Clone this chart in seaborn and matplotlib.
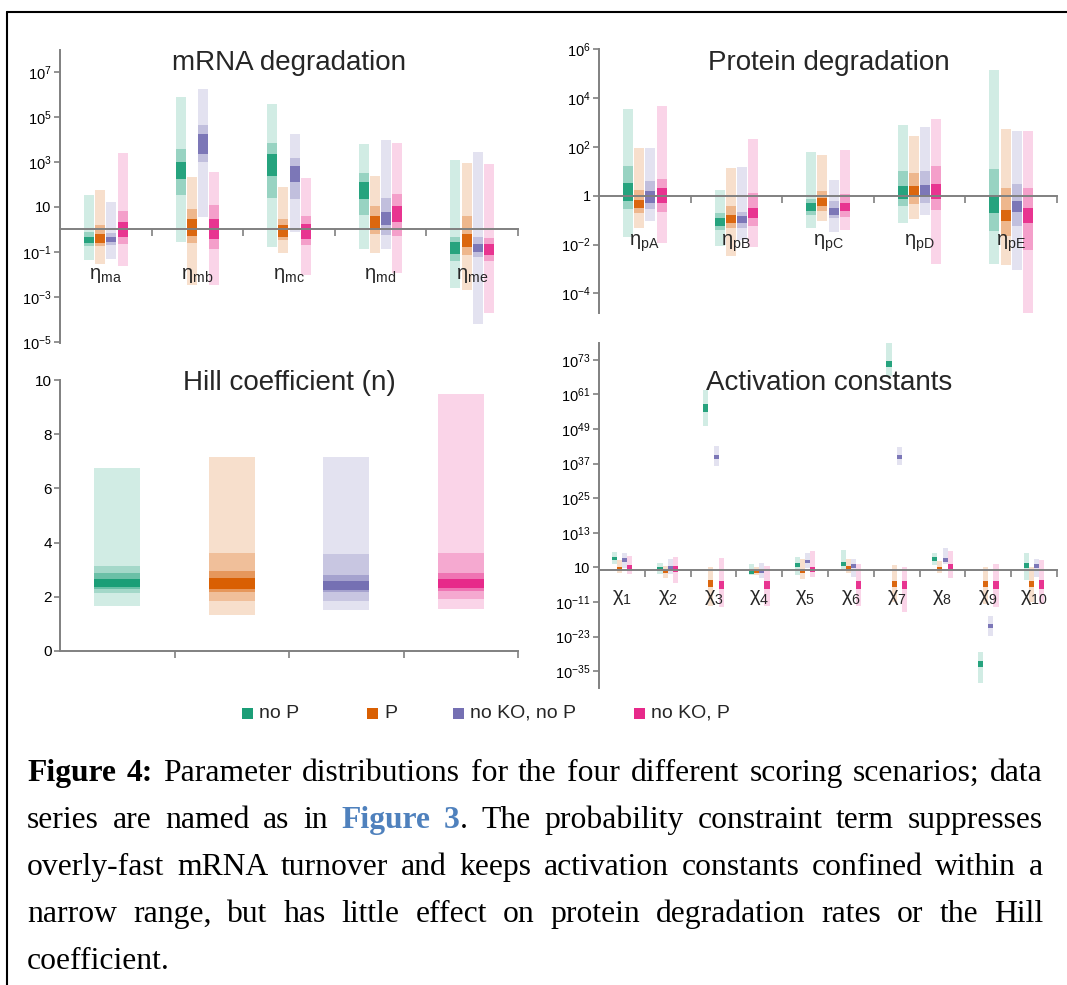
import numpy as np
import matplotlib
matplotlib.use("Agg")
import matplotlib.pyplot as plt
import matplotlib.colors as mcolors
from matplotlib.lines import Line2D
from matplotlib.patches import Rectangle
import seaborn as sns

# ---------------- data (log10 values unless noted) ----------------
SERIES = ["no P", "P", "no KO, no P", "no KO, P"]

MRNA_LABELS = ["ma", "mb", "mc", "md", "me"]
# (outer_lo, outer_hi, mid_lo, mid_hi, core_lo, core_hi)
MRNA_NOP = [(-1.37, 1.55, -0.74, -0.12, -0.59, -0.34),
            (-0.56, 5.88, 1.53, 3.57, 2.24, 2.98),
            (-0.78, 5.56, 1.39, 3.83, 2.39, 3.35),
            (-0.85, 3.79, 0.66, 2.53, 1.36, 2.09),
            (-2.59, 3.08, -1.41, -0.34, -1.08, -0.56)]
MRNA_P = [(-1.52, 1.77, -0.74, 0.21, -0.59, -0.19),
          (-2.48, 2.31, -0.59, 0.91, -0.27, 0.47),
          (-1.03, 1.87, -0.49, 0.47, -0.34, 0.18),
          (-1.03, 2.36, -0.22, 1.06, -0.04, 0.62),
          (-2.70, 2.95, -1.15, 0.59, -0.78, -0.19)]
MRNA_NOKO_NOP = [(-1.33, 1.21, -0.68, -0.16, -0.56, -0.34),
                 (0.55, 6.26, 2.98, 4.63, 3.35, 4.23),
                 (-0.12, 4.26, 1.36, 3.17, 2.09, 2.83),
                 (-0.88, 3.96, -0.24, 1.40, 0.18, 0.77),
                 (-4.21, 3.45, -1.22, -0.34, -1.00, -0.63)]
MRNA_NOKO_P = [(-1.64, 3.39, -0.63, 0.84, -0.34, 0.35),
               (-2.45, 2.56, -0.88, 1.09, -0.41, 0.47),
               (-2.03, 2.27, -0.68, 0.59, -0.41, 0.25),
               (-1.93, 3.83, -0.27, 1.58, 0.32, 1.06),
               (-3.73, 2.90, -1.41, -0.38, -1.15, -0.63)]

PROT_LABELS = ["pA", "pB", "pC", "pD", "pE"]
PROT_NOP = [(-1.69, 3.55, -0.55, 1.20, -0.23, 0.52),
            (-2.07, 0.25, -1.39, -0.71, -1.23, -0.91),
            (-1.32, 1.77, -0.78, -0.14, -0.64, -0.30),
            (-1.12, 2.90, -0.44, 1.00, -0.14, 0.38),
            (-2.80, 5.13, -1.46, 1.09, -0.71, 0.04)]
PROT_P = [(-1.32, 1.95, -0.71, 0.25, -0.50, -0.16),
          (-2.45, 1.13, -1.32, -0.44, -1.12, -0.78),
          (-1.05, 1.68, -0.64, 0.20, -0.44, -0.10),
          (-0.94, 2.43, -0.33, 0.93, -0.03, 0.41),
          (-2.82, 2.74, -1.64, 0.31, -1.05, -0.57)]
PROT_NOKO_NOP = [(-1.05, 1.95, -0.55, 0.61, -0.30, 0.18),
                 (-1.80, 1.16, -1.32, -0.68, -1.12, -0.85),
                 (-1.50, 0.63, -0.91, -0.23, -0.78, -0.50),
                 (-0.79, 2.81, -0.30, 1.02, -0.03, 0.45),
                 (-3.03, 2.66, -1.23, 0.49, -0.68, -0.23)]
PROT_NOKO_P = [(-1.94, 3.65, -0.68, 0.68, -0.30, 0.31),
               (-2.10, 2.33, -1.25, 0.11, -0.91, -0.50),
               (-1.39, 1.88, -0.87, 0.08, -0.64, -0.30),
               (-2.80, 3.14, -0.60, 1.20, -0.14, 0.49),
               (-5.11, 2.66, -2.21, 0.31, -1.12, -0.50)]

# Hill coefficient (linear), one bar per series: (lo, hi) per level
HILL_OUTER = [(1.65, 6.77), (1.32, 7.17), (1.53, 7.17), (1.56, 9.47)]
HILL_BAND1 = [(2.14, 3.14), (1.85, 3.62), (1.85, 3.57), (1.91, 3.63)]
HILL_BAND2 = [(2.27, 2.86), (2.16, 2.94), (2.18, 2.80), (2.20, 2.89)]
HILL_CORE = [(2.36, 2.67), (2.30, 2.71), (2.24, 2.57), (2.33, 2.67)]

ACT_LABELS = ["1", "2", "3", "4", "5", "6", "7", "8", "9", "10"]
# (outer_lo, outer_hi, core_lo, core_hi)
ACT_NOP = [(2.2, 6.2, 3.6, 4.7), (-1.3, 2.4, -0.3, 1.0), (50.0, 62.4, 55.0, 57.5),
           (-1.6, 2.2, -1.3, -0.1), (-1.5, 4.5, 1.0, 2.4), (0.1, 7.0, 1.5, 2.9),
           (67.3, 78.8, 70.5, 72.5), (2.0, 5.9, 3.3, 4.7), (-39.2, -28.2, -33.5, -31.5),
           (-3.3, 5.9, 0.8, 2.4)]
ACT_P = [(-1.0, 3.6, -0.1, 1.3), (-2.7, 1.6, -0.9, 0.2), (-12.2, 1.0, -5.7, -3.3),
         (-1.6, 1.3, -1.0, -0.1), (-3.0, 3.9, -0.8, 0.6), (-1.0, 3.9, -0.1, 1.5),
         (-11.1, 2.0, -5.9, -3.6), (-1.0, 3.1, -0.3, 1.0), (-11.7, 1.0, -5.9, -3.8),
         (-11.1, 1.3, -5.7, -3.6)]
ACT_NOKO_NOP = [(0.8, 5.9, 2.8, 4.2), (-1.3, 3.9, 0.1, 1.6), (36.1, 43.0, 38.6, 40.0),
                (-2.7, 2.4, -1.0, 0.1), (0.8, 5.9, 2.4, 3.7), (-2.2, 3.9, 0.8, 2.2),
                (36.4, 42.6, 38.6, 40.0), (2.2, 7.7, 2.9, 4.3), (-22.8, -15.9, -20.0, -18.5),
                (-2.2, 3.9, 0.8, 2.2)]
ACT_NOKO_P = [(-1.3, 5.1, -0.1, 2.0), (-4.5, 4.7, -0.7, 1.6), (-12.8, 4.3, -6.5, -3.8),
              (-12.2, 1.6, -6.5, -3.8), (-2.4, 6.6, -0.7, 1.0), (-12.2, 2.2, -6.5, -3.8),
              (-14.3, 1.3, -6.5, -3.6), (-2.7, 6.6, 0.5, 2.2), (-12.8, 2.2, -6.5, -3.8),
              (-11.7, 3.6, -6.5, -3.3)]

MRNA_TICKS = [-5, -3, -1, 1, 3, 5, 7]
PROT_TICKS = [-4, -2, 0, 2, 4, 6]
HILL_TICKS = [0, 2, 4, 6, 8, 10]
ACT_TICKS = [-35, -23, -11, 1, 13, 25, 37, 49, 61, 73]

# ---------------- style ----------------
sns.set_style("white")
PALETTE = sns.color_palette("Dark2", 4)
plt.rcParams["font.family"] = ["Liberation Sans", "DejaVu Sans"]
plt.rcParams["mathtext.fontset"] = "custom"
plt.rcParams["mathtext.rm"] = "Liberation Sans"
plt.rcParams["mathtext.it"] = "Liberation Sans:italic"
plt.rcParams["mathtext.bf"] = "Liberation Sans:bold"

W, H = 1067, 985
fig = plt.figure(figsize=(W / 100, H / 100), dpi=100)
fig.patch.set_facecolor("white")

GRAY = "#808080"


def rect(l, r, t, b):
    return [l / W, 1 - b / H, (r - l) / W, (b - t) / H]


def tint(c, a):
    c = np.array(mcolors.to_rgb(c))
    return tuple(1 - a * (1 - c))


def tick_label(v):
    if v == 0:
        return "1"
    if v == 1:
        return "10"
    return r"$\mathregular{10^{%d}}$" % v


def style_axes(ax):
    for s in ["top", "right"]:
        ax.spines[s].set_visible(False)
    for s in ["left", "bottom"]:
        ax.spines[s].set_color(GRAY)
        ax.spines[s].set_linewidth(1.4)
    ax.tick_params(axis="both", colors=GRAY, labelcolor="black", length=4, width=1.2,
                   direction="out", left=True, bottom=True)
    ax.tick_params(axis="x", labelbottom=False, length=5)
    ax.set_facecolor("white")


def log_panel(rect_px, series_data, ticks, ylim, ncat, labels, prefix, label_y,
              alphas, width, spacing, labelsize):
    ax = fig.add_axes(rect(*rect_px))
    style_axes(ax)
    ax.set_yscale("log")
    for si, data in enumerate(series_data):
        for ci, row in enumerate(data):
            x = ci + 0.5 + (si - 1.5) * spacing
            for k, a in enumerate(alphas):
                lo, hi = 10.0 ** row[2 * k], 10.0 ** row[2 * k + 1]
                ax.bar(x, hi - lo, bottom=lo, width=width, color=tint(PALETTE[si], a),
                       linewidth=0, zorder=1 + k * 0.01)
    ax.set_xlim(0, ncat)
    ax.set_ylim(10.0 ** ylim[0], 10.0 ** ylim[1])
    ax.spines["bottom"].set_position(("data", 1.0))
    ax.set_xticks(range(1, ncat + 1))
    ax.set_yticks([10.0 ** v for v in ticks])
    ax.set_yticklabels([tick_label(v) for v in ticks])
    ax.minorticks_off()
    ax.tick_params(axis="y", labelsize=labelsize, pad=2)
    for ci, lab in enumerate(labels):
        ax.text(ci + 0.5, 10.0 ** label_y, r"$\mathregular{%s_{%s}}$" % (prefix, lab),
                ha="center", va="center", fontsize=14.5)
    return ax


# mRNA degradation
log_panel((60, 518, 50, 343), [MRNA_NOP, MRNA_P, MRNA_NOKO_NOP, MRNA_NOKO_P],
          MRNA_TICKS, (-5.05, 7.98), 5, MRNA_LABELS, r"\eta", -2.05,
          [0.2, 0.45, 0.95], 0.11, 0.122, 10.5)

# Protein degradation
log_panel((599, 1057, 49, 313), [PROT_NOP, PROT_P, PROT_NOKO_NOP, PROT_NOKO_P],
          PROT_TICKS, (-4.8, 6.0), 5, PROT_LABELS, r"\eta", -1.94,
          [0.2, 0.45, 0.95], 0.11, 0.122, 10.5)

# Activation constants
log_panel((599, 1057, 343, 688), [ACT_NOP, ACT_P, ACT_NOKO_NOP, ACT_NOKO_P],
          ACT_TICKS, (-40.8, 78.8), 10, ACT_LABELS, r"\chi", -9.4,
          [0.2, 0.95], 0.11, 0.112, 10.5)

# Hill coefficient
axh = fig.add_axes(rect(60, 518, 380, 651))
style_axes(axh)
for si in range(4):
    for k, (lv, a) in enumerate(zip([HILL_OUTER, HILL_BAND1, HILL_BAND2, HILL_CORE],
                                     [0.2, 0.4, 0.65, 1.0])):
        lo, hi = lv[si]
        axh.bar(si + 0.5, hi - lo, bottom=lo, width=0.4, color=tint(PALETTE[si], a),
                linewidth=0, zorder=1 + k * 0.01)
axh.set_xlim(0, 4)
axh.set_ylim(0, 10)
axh.set_xticks([1, 2, 3, 4])
axh.set_yticks(HILL_TICKS)
axh.set_yticklabels([str(v) for v in HILL_TICKS])
axh.tick_params(axis="y", labelsize=11, pad=2)

# Titles
for txt, (x, y) in [("mRNA degradation", (289, 63)), ("Protein degradation", (829, 63)),
                    ("Hill coefficient (n)", (289, 383)), ("Activation constants", (829, 383))]:
    fig.text(x / W, 1 - y / H, txt, ha="center", va="center", fontsize=20)

# Legend
for si, (name, x) in enumerate(zip(SERIES, [247, 372, 458, 639])):
    fig.patches.append(Rectangle(((x - 5.5) / W, 1 - (713 + 5.5) / H), 11 / W, 11 / H,
                                 transform=fig.transFigure, color=PALETTE[si],
                                 linewidth=0))
    fig.text((x + 12) / W, 1 - 713 / H, name, ha="left", va="center", fontsize=14)

# Frame
fig.add_artist(Line2D([7 / W, 7 / W], [0, 1 - 12 / H], transform=fig.transFigure,
                      color="black", linewidth=1.5))
fig.add_artist(Line2D([7 / W, 1], [1 - 12 / H, 1 - 12 / H], transform=fig.transFigure,
                      color="black", linewidth=1.5))

# Caption (justified)
SERIF = ["Liberation Serif", "DejaVu Serif"]
FS = 22.8
BLUE = "#4f81bd"
N, B = "normal", "bold"
caption_lines = [
    [[("Figure", B, "black")], [("4:", B, "black")]] +
    [[(w, N, "black")] for w in "Parameter distributions for the four different scoring scenarios; data".split()],
    [[(w, N, "black")] for w in "series are named as in".split()] +
    [[("Figure", B, BLUE)], [("3", B, BLUE), (".", N, "black")]] +
    [[(w, N, "black")] for w in "The probability constraint term suppresses".split()],
    [[(w, N, "black")] for w in "overly-fast mRNA turnover and keeps activation constants confined within a".split()],
    [[(w, N, "black")] for w in "narrow range, but has little effect on protein degradation rates or the Hill".split()],
    [[(w, N, "black")] for w in "coefficient.".split()],
]
baselines = [781, 828, 875, 922, 969]
XL, XR = 27, 1043
renderer = fig.canvas.get_renderer()


def seg_w(txt, weight):
    t = fig.text(0, 0, txt, fontsize=FS, family=SERIF, weight=weight)
    w = t.get_window_extent(renderer).width
    t.remove()
    return w


space_w = seg_w("a a", N) - seg_w("aa", N)
for li, (tokens, yb) in enumerate(zip(caption_lines, baselines)):
    widths = [[seg_w(s, wgt) for s, wgt, c in tok] for tok in tokens]
    total = sum(sum(w) for w in widths)
    last = li == len(caption_lines) - 1
    gap = space_w if (last or len(tokens) < 2) else (XR - XL - total) / (len(tokens) - 1)
    x = XL
    for tok, ws in zip(tokens, widths):
        for (s, wgt, c), w in zip(tok, ws):
            fig.text(x / W, 1 - yb / H, s, fontsize=FS, family=SERIF, weight=wgt,
                     color=c, ha="left", va="baseline")
            x += w
        x += gap

fig.savefig("out.png", dpi=100)
